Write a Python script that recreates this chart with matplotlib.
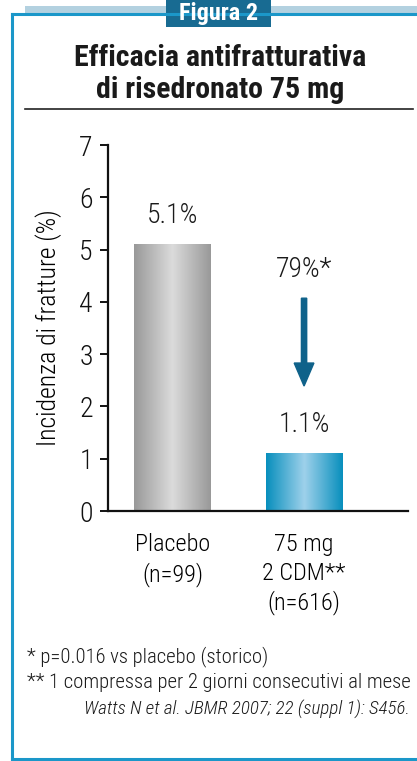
import numpy as np
import matplotlib
matplotlib.use("Agg")
import matplotlib.pyplot as plt
from matplotlib.patches import Rectangle, FancyArrow
from matplotlib.lines import Line2D
from matplotlib import font_manager

# ---- data -------------------------------------------------------------
categories = ["Placebo\n(n=99)", "75 mg\n2 CDM**\n(n=616)"]
incidence = [5.1, 1.1]
value_labels = ["5.1%", "1.1%"]
reduction_label = "79%*"
yticks = [0, 1, 2, 3, 4, 5, 6, 7]
title_lines = "Efficacia antifratturativa\ndi risedronato 75 mg"
badge = "Figura 2"
ylabel = "Incidenza di fratture (%)"
footnotes = ["* p=0.016 vs placebo (storico)",
             "** 1 compressa per 2 giorni consecutivi al mese"]
citation = "Watts N et al. JBMR 2007; 22 (suppl 1): S456."

# ---- fonts ------------------------------------------------------------
names = {f.name for f in font_manager.fontManager.ttflist}
family = "Liberation Sans"
for cand in ("Roboto Condensed", "Liberation Sans Narrow", "Open Sans Condensed"):
    if cand in names:
        family = cand
        break
plt.rcParams["font.family"] = [family, "DejaVu Sans"]
plt.rcParams["font.weight"] = "light"
plt.rcParams["axes.labelweight"] = "light"
plt.rcParams["text.color"] = "#1a1a1a"

W, H = 417, 761
fig = plt.figure(figsize=(W / 100, H / 100), dpi=100)


def fx(px):
    return px / W


def fy(py):
    return 1 - py / H


FRAME = "#1b97c9"
DARK = "#0f628a"

# ---- frame ------------------------------------------------------------
fig.add_artist(Rectangle((fx(25), fy(13)), fx(W - 25), 7 / H, transform=fig.transFigure,
                         facecolor="#b3d1e0", edgecolor="none"))
fig.add_artist(Line2D([fx(12), fx(W)], [fy(14), fy(14)], transform=fig.transFigure,
                      color=FRAME, lw=2.2))
fig.add_artist(Line2D([fx(12), fx(12)], [fy(14), fy(759)], transform=fig.transFigure,
                      color=FRAME, lw=2.2))
fig.add_artist(Line2D([fx(12), fx(W)], [fy(759), fy(759)], transform=fig.transFigure,
                      color=FRAME, lw=2.2))
fig.add_artist(Rectangle((fx(166), fy(27)), fx(105), 27 / H, transform=fig.transFigure,
                         facecolor="#186b92", edgecolor="none"))
fig.text(fx(219), fy(13.5), badge, ha="center", va="center", color="white",
         fontsize=17.5, fontweight="bold")

# ---- title ------------------------------------------------------------
fig.text(fx(220), fy(74), title_lines, ha="center", va="center", fontsize=21.5,
         fontweight="black", linespacing=1.18)
fig.add_artist(Line2D([fx(25), fx(413)], [fy(109), fy(109)], transform=fig.transFigure,
                      color="#222222", lw=1.2))

# ---- axes -------------------------------------------------------------
ax = fig.add_axes([fx(108), fy(511), fx(300), (511 - 145) / H])
for s in ("top", "right"):
    ax.spines[s].set_visible(False)
for s in ("left", "bottom"):
    ax.spines[s].set_linewidth(1.6)
    ax.spines[s].set_color("#111111")
ax.set_yticks(yticks)
ax.tick_params(axis="y", labelsize=20, length=6, width=1.4, pad=5, colors="#111111")
ax.tick_params(axis="x", length=0, labelsize=17.5, pad=16)
ax.set_xticks(range(len(categories)))
ax.set_xticklabels(categories, linespacing=1.3, va="top")
ax.set_ylabel(ylabel, fontsize=18.5, labelpad=12, fontweight="light")

# gradient fills for the bars
gray = np.array([[0.60, 0.60, 0.60], [0.86, 0.86, 0.86], [0.60, 0.60, 0.60]])
blue = np.array([[0.03, 0.56, 0.74], [0.62, 0.82, 0.92], [0.03, 0.56, 0.74]])


def ramp(cols, n=200):
    t = np.linspace(0, 1, n)
    out = np.empty((1, n, 3))
    for c in range(3):
        out[0, :, c] = np.interp(t, [0, 0.5, 1], cols[:, c])
    return out


width = 0.585
for i, (v, cols) in enumerate(zip(incidence, [gray, blue])):
    x0 = i - width / 2
    rect = Rectangle((x0, 0), width, v, facecolor="none", edgecolor="none")
    ax.add_patch(rect)
    im = ax.imshow(ramp(cols), extent=(x0, x0 + width, 0, v), aspect="auto",
                   interpolation="bilinear", zorder=2)
    im.set_clip_path(rect)
    ax.text(i, v + 0.55, value_labels[i], ha="center", va="center", fontsize=20)

ax.set_xlim(-0.49, 1.79)
ax.set_ylim(0, 7)

# reduction arrow between the two bars
ax.text(1, 4.62, reduction_label, ha="center", va="center", fontsize=20)
ax.add_patch(FancyArrow(1, 4.07, 0, 2.39 - 4.07, width=0.04, head_width=0.15,
                        head_length=0.44, length_includes_head=True,
                        color=DARK, zorder=3))

# ---- footnotes --------------------------------------------------------
fig.text(fx(27), fy(657), footnotes[0], ha="left", va="center", fontsize=14.9)
fig.text(fx(27), fy(682), footnotes[1], ha="left", va="center", fontsize=14.9)
fig.text(fx(410), fy(709), citation, ha="right", va="center", fontsize=13.7,
         style="italic")

fig.savefig("out.png", dpi=100)
